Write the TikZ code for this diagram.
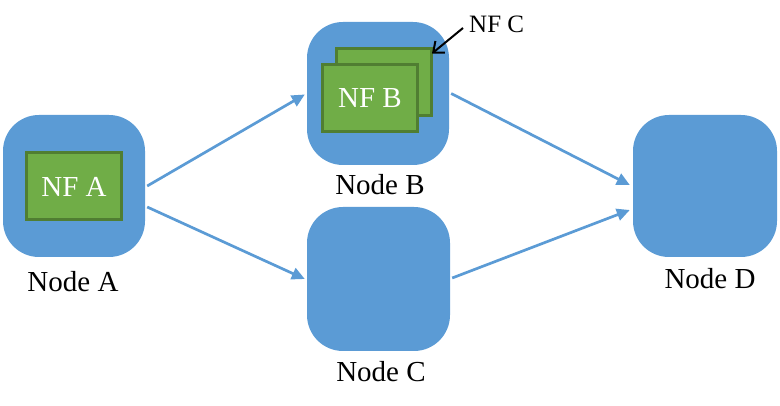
\documentclass[tikz,border=0pt]{standalone}
\usepackage{fontspec}
\setmainfont{Liberation Serif}
\usetikzlibrary{arrows.meta,calc}
\definecolor{nodeblue}{HTML}{5B9BD5}
\definecolor{nfgreen}{HTML}{70AD47}
\definecolor{nfborder}{HTML}{507E32}
\tikzset{
  hostbox/.style={fill=nodeblue,draw=none,rounded corners=36pt,minimum width=142pt,minimum height=142pt,inner sep=0pt},
  nfbox/.style={fill=nfgreen,draw=nfborder,line width=3pt,minimum width=95pt,minimum height=67pt,inner sep=0pt,text=white,font=\fontsize{29}{32}\selectfont},
  lbl/.style={font=\fontsize{29}{32}\selectfont,inner sep=0pt},
  link/.style={draw=nodeblue,line width=2.7pt,-{Triangle[length=13pt,width=12pt]}},
}
\begin{document}
\begin{tikzpicture}[x=1pt,y=-1pt]
\useasboundingbox (0,0) rectangle (780,406);
% hosts
\node[hostbox] (A) at (74,186) {};
\node[hostbox,minimum height=143pt] (B) at (378,93.5) {};
\node[hostbox,minimum width=143pt,minimum height=144pt] (C) at (378.5,279) {};
\node[hostbox,minimum width=144pt] (D) at (705,186) {};
% NFs
\node[nfbox] (nfa) at (74,186.5) {NF A};
\node[nfbox] (nfc) at (384,82.5) {};
\node[nfbox] (nfb) at (370,98.5) {NF B};
% labels
\node[lbl] (la) at (73,282) {Node A};
\node[lbl] (lb) at (380,185) {Node B};
\node[lbl] (lc) at (381,372) {Node C};
\node[lbl] (ld) at (710,279) {Node D};
\node[font=\fontsize{25}{27}\selectfont,inner sep=0pt,anchor=west] (lnfc) at (469,24) {NF C};
% connectors
\draw[link] ($(A.east)+(2,0)$) -- ($(B.west)+(-2,1)$);
\draw[link] ($(A.east)+(2,21)$) -- ($(C.west)+(-2,0)$);
\draw[link] ($(B.east)+(2,0)$) -- ($(D.west)+(-3,-1)$);
\draw[link] ($(C.east)+(2,-1)$) -- ($(D.west)+(-3,24)$);
\draw[black,line width=2pt,-{Straight Barb[length=9pt,width=15pt]}] ($(lnfc.west)+(-6,4)$) -- ($(nfc.north east)+(-1,6)$);
\end{tikzpicture}
\end{document}
